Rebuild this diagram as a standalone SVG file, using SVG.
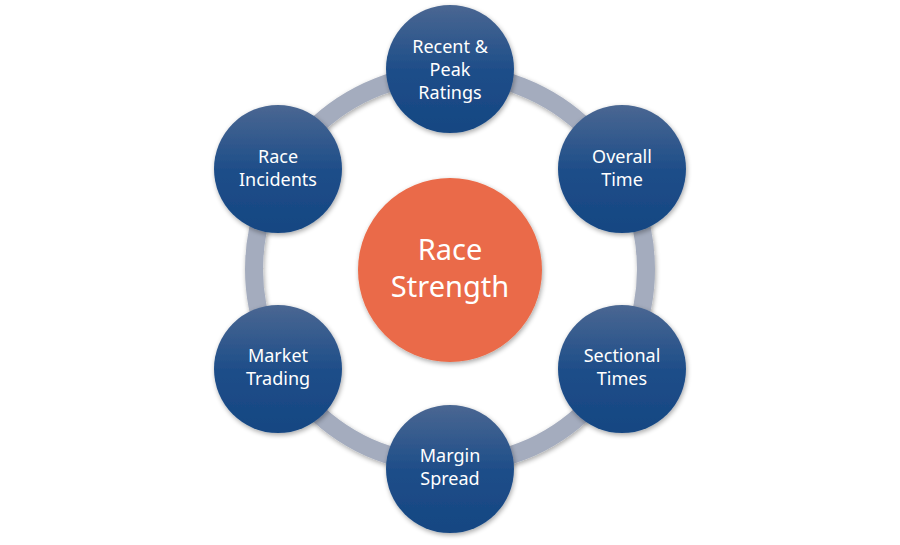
<svg xmlns="http://www.w3.org/2000/svg" width="900" height="545" viewBox="0 0 900 545">
<defs>
<linearGradient id="blue" x1="0" y1="0" x2="0" y2="1">
<stop offset="0" stop-color="#4a6792"/>
<stop offset="0.5" stop-color="#1f4e89"/>
<stop offset="1" stop-color="#154682"/>
</linearGradient>
<filter id="sh" x="-20%" y="-20%" width="140%" height="140%">
<feGaussianBlur in="SourceAlpha" stdDeviation="2.5"/>
<feOffset dx="1" dy="2" result="b"/>
<feComponentTransfer><feFuncA type="linear" slope="0.35"/></feComponentTransfer>
<feMerge><feMergeNode/><feMergeNode in="SourceGraphic"/></feMerge>
</filter>
<style>
.node circle{fill:url(#blue);filter:url(#sh);}
.node text{fill:#ffffff;font-family:"Noto Sans","Liberation Sans",sans-serif;font-size:18px;text-anchor:middle;}
.ctr text{fill:#ffffff;font-family:"Noto Sans","Liberation Sans",sans-serif;font-size:29px;text-anchor:middle;}
</style>
</defs>
<rect width="900" height="545" fill="#ffffff"/>
<g id="connectors">
<circle cx="450" cy="269" r="196" fill="none" stroke="#a4acbe" stroke-width="18" filter="url(#sh)"/>
</g>
<g id="center" class="ctr">
<circle cx="450" cy="270" r="92" fill="#ea6b48" filter="url(#sh)"/>
<text x="450" y="260">Race</text>
<text x="450" y="297">Strength</text>
</g>
<g id="n-ratings" class="node">
<circle cx="450" cy="69" r="64"/>
<text x="450" y="53">Recent &amp;</text>
<text x="450" y="76">Peak</text>
<text x="450" y="99">Ratings</text>
</g>
<g id="n-overall" class="node">
<circle cx="622" cy="169" r="64"/>
<text x="622" y="163">Overall</text>
<text x="622" y="186">Time</text>
</g>
<g id="n-sectional" class="node">
<circle cx="622" cy="369" r="64"/>
<text x="622" y="362">Sectional</text>
<text x="622" y="385">Times</text>
</g>
<g id="n-margin" class="node">
<circle cx="450" cy="469" r="64"/>
<text x="450" y="462">Margin</text>
<text x="450" y="485">Spread</text>
</g>
<g id="n-market" class="node">
<circle cx="278" cy="369" r="64"/>
<text x="278" y="362">Market</text>
<text x="278" y="385">Trading</text>
</g>
<g id="n-incidents" class="node">
<circle cx="278" cy="169" r="64"/>
<text x="278" y="163">Race</text>
<text x="278" y="186">Incidents</text>
</g>
</svg>
